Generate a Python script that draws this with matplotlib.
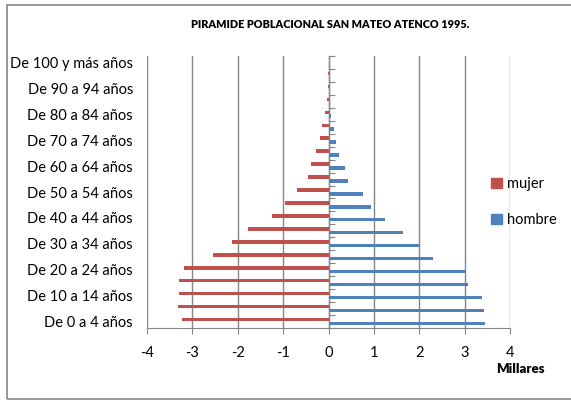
import numpy as np
import matplotlib
matplotlib.use("Agg")
import matplotlib.pyplot as plt
from matplotlib.patches import Rectangle, Patch

plt.rcParams["font.family"] = ["Lato", "DejaVu Sans"]

# age groups, bottom to top
grupos = ["De 0 a 4 años", "De 5 a 9 años", "De 10 a 14 años", "De 15 a 19 años",
          "De 20 a 24 años", "De 25 a 29 años", "De 30 a 34 años", "De 35 a 39 años",
          "De 40 a 44 años", "De 45 a 49 años", "De 50 a 54 años", "De 55 a 59 años",
          "De 60 a 64 años", "De 65 a 69 años", "De 70 a 74 años", "De 75 a 79 años",
          "De 80 a 84 años", "De 85 a 89 años", "De 90 a 94 años", "De 95 a 99 años",
          "De 100 y más años"]

# thousands of people
mujer = [3.22, 3.32, 3.30, 3.29, 3.18, 2.54, 2.13, 1.78, 1.24, 0.95, 0.70,
         0.46, 0.38, 0.27, 0.18, 0.14, 0.07, 0.04, 0.02, 0.01, 0.0]
hombre = [3.45, 3.43, 3.39, 3.08, 3.02, 2.31, 2.01, 1.64, 1.24, 0.94, 0.75,
          0.43, 0.36, 0.24, 0.17, 0.12, 0.06, 0.04, 0.01, 0.0, 0.0]

x_ticks = [-4, -3, -2, -1, 0, 1, 2, 3, 4]

rojo = "#C0504D"
azul = "#4F81BD"
gris = "#868686"

fig = plt.figure(figsize=(5.71, 4.03), dpi=100)
ax = fig.add_axes([147 / 571, 1 - 328 / 403, (510 - 147) / 571, (328 - 56) / 403])

y = np.arange(len(grupos))
h = 0.27
ax.barh(y + 0.15, -np.array(mujer), height=h, color=rojo, label="mujer")
ax.barh(y - 0.14, hombre, height=h, color=azul, label="hombre")

ax.set_xlim(-4, 4)
ax.set_ylim(-0.5, len(grupos) - 0.5)
ax.set_xticks(x_ticks)
ax.set_xticklabels([str(v) for v in x_ticks], fontsize=10.5)
ax.tick_params(axis="x", direction="out", length=4, color=gris, pad=9)
ax.grid(axis="x", color=gris, linewidth=1)
ax.set_axisbelow(True)

ax.set_yticks(y[::2])
ax.set_yticklabels(grupos[::2], fontsize=10.5)
ax.tick_params(axis="y", length=0, pad=10)

for s in ["top", "right", "left"]:
    ax.spines[s].set_visible(False)
ax.spines["bottom"].set_color(gris)

# vertical axis at zero with marks between categories
sec = ax.secondary_yaxis(0.5)
sec.set_yticks(np.arange(-0.5, len(grupos), 1.0))
sec.set_yticklabels([])
sec.tick_params(axis="y", direction="out", length=4, color=gris)
sec.spines["left"].set_color(gris)

handles = [Patch(color=rojo), Patch(color=azul)]
fig.legend(handles, ["mujer", "hombre"], loc="center left",
           bbox_to_anchor=(484 / 571, 1 - 202 / 403), frameon=False,
           fontsize=10.5, handlelength=0.7, handleheight=0.7,
           handletextpad=0.4, labelspacing=1.5, borderpad=0)

fig.text(330 / 571, 1 - 25 / 403, "PIRAMIDE POBLACIONAL SAN MATEO ATENCO 1995.",
         ha="center", va="center", fontsize=7.8, fontweight="heavy")
fig.text(520 / 571, 1 - 369 / 403, "Millares", ha="center", va="center",
         fontsize=9.5, fontweight="heavy")

fig.patches.append(Rectangle((7 / 571, 4 / 403), 1.0, 394 / 403, transform=fig.transFigure,
                             fill=False, edgecolor=gris, linewidth=1.2))

fig.savefig("out.png", dpi=100)
